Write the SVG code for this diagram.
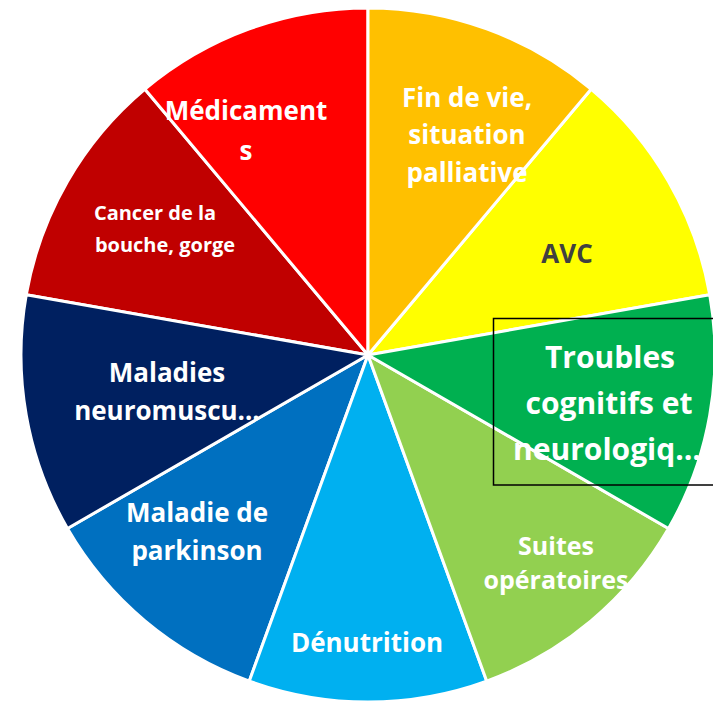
<svg xmlns="http://www.w3.org/2000/svg" width="713" height="705" viewBox="0 0 713 705">
<style>
.s{stroke:#fff;stroke-width:3;stroke-linejoin:round}
.t{font-family:"Open Sans","Liberation Sans",sans-serif;font-weight:bold;fill:#fff;text-anchor:middle}
</style>
<rect width="713" height="705" fill="#fff"/>
<g id="cancer">
<path class="s" fill="#C00000" d="M368 355 L26.27 294.74 A347 347 0 0 1 144.95 89.18 Z"/>
<text class="t" font-size="20"><tspan x="155" y="220">Cancer de la</tspan><tspan x="165" y="252">bouche, gorge</tspan></text>
</g>
<g id="medicaments">
<path class="s" fill="#FF0000" d="M368 355 L144.95 89.18 A347 347 0 0 1 368 8 Z"/>
<text class="t" font-size="26"><tspan x="246" y="120">Médicament</tspan><tspan x="246" y="160">s</tspan></text>
</g>
<g id="parkinson">
<path class="s" fill="#0070C0" d="M368 355 L249.32 681.07 A347 347 0 0 1 67.49 528.5 Z"/>
<text class="t" font-size="26"><tspan x="197" y="522">Maladie de</tspan><tspan x="197" y="560">parkinson</tspan></text>
</g>
<g id="neuromusculaires">
<path class="s" fill="#002060" d="M368 355 L67.49 528.5 A347 347 0 0 1 26.27 294.74 Z"/>
<text class="t" font-size="26"><tspan x="167" y="382">Maladies</tspan><tspan x="167" y="420">neuromuscu…</tspan></text>
</g>
<g id="denutrition">
<path class="s" fill="#00B0F0" d="M368 355 L486.68 681.07 A347 347 0 0 1 249.32 681.07 Z"/>
<text class="t" font-size="26" x="367" y="652">Dénutrition</text>
</g>
<g id="suites">
<path class="s" fill="#92D050" d="M368 355 L668.51 528.5 A347 347 0 0 1 486.68 681.07 Z"/>
<text class="t" font-size="25"><tspan x="556" y="555">Suites</tspan><tspan x="556" y="589">opératoires</tspan></text>
</g>
<g id="avc">
<path class="s" fill="#FFFF00" d="M368 355 L591.05 89.18 A347 347 0 0 1 709.73 294.74 Z"/>
<text class="t" font-size="26" x="567" y="263" style="fill:#404040">AVC</text>
</g>
<g id="fin-de-vie">
<path class="s" fill="#FFC000" d="M368 355 L368 8 A347 347 0 0 1 591.05 89.18 Z"/>
<text class="t" font-size="26"><tspan x="467" y="107">Fin de vie,</tspan><tspan x="467" y="144">situation</tspan><tspan x="467" y="182">palliative</tspan></text>
</g>
<g id="troubles">
<path class="s" fill="#00B050" d="M368 355 L709.73 294.74 A347 347 0 0 1 668.51 528.5 Z"/>
<rect x="493.5" y="318.5" width="222" height="166.5" fill="none" stroke="#000" stroke-width="1.5"/>
<text class="t" font-size="30"><tspan x="610" y="368">Troubles</tspan><tspan x="609" y="414">cognitifs et</tspan><tspan x="607" y="460">neurologiq…</tspan></text>
</g>
</svg>
